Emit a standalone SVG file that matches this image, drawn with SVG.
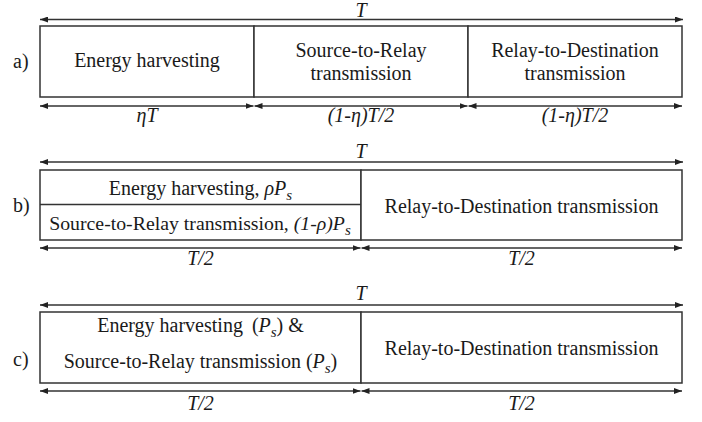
<svg xmlns="http://www.w3.org/2000/svg" width="702" height="422" viewBox="0 0 702 422">
<defs>
<marker id="ah" viewBox="0 0 8 6" refX="8" refY="3" markerWidth="8" markerHeight="6" markerUnits="userSpaceOnUse" orient="auto-start-reverse">
<path d="M0,0 L8,3 L0,6 z" fill="#222"/>
</marker>
</defs>
<style>
.bx{fill:#fff;stroke:#333;stroke-width:1.5}
.dv{stroke:#333;stroke-width:1.5;fill:none}
.ar{stroke:#333;stroke-width:1.3;fill:none;marker-start:url(#ah);marker-end:url(#ah)}
</style>
<rect width="702" height="422" fill="#fff"/>
<g font-family="Liberation Serif, Times New Roman, serif" font-size="20" fill="#1a1a1a">
<g id="panel-a">
<text x="13" y="68">a)</text>
<g id="a-eh"><rect class="bx" x="40" y="26" width="214" height="71"/><text text-anchor="middle" x="147" y="67">Energy harvesting</text></g>
<g id="a-sr"><rect class="bx" x="254" y="26" width="214" height="71"/><text text-anchor="middle" x="361" y="57">Source-to-Relay</text><text text-anchor="middle" x="361" y="80">transmission</text></g>
<g id="a-rd"><rect class="bx" x="468" y="26" width="214" height="71"/><text text-anchor="middle" x="575" y="57">Relay-to-Destination</text><text text-anchor="middle" x="575" y="80">transmission</text></g>
<text text-anchor="middle" font-style="italic" x="361" y="17">T</text>
<text text-anchor="middle" font-style="italic" x="147" y="122">ηT</text>
<text text-anchor="middle" font-style="italic" x="361" y="122">(1-η)T/2</text>
<text text-anchor="middle" font-style="italic" x="575" y="122">(1-η)T/2</text>
</g>

<g id="panel-b">
<text x="13" y="212">b)</text>
<g id="b-left"><rect class="bx" x="40" y="170" width="321" height="70"/><line class="dv" x1="40" y1="204.5" x2="361" y2="204.5"/>
<text text-anchor="middle" x="200.5" y="195">Energy harvesting, <tspan font-style="italic">ρP</tspan><tspan font-style="italic" font-size="15" dy="5">s</tspan></text>
<text text-anchor="middle" x="200" y="230" font-size="19.8">Source-to-Relay transmission, <tspan font-style="italic">(1-ρ)P</tspan><tspan font-style="italic" font-size="15" dy="5">s</tspan></text></g>
<g id="b-rd"><rect class="bx" x="361" y="170" width="321" height="70"/><text text-anchor="middle" x="521.5" y="213">Relay-to-Destination transmission</text></g>
<text text-anchor="middle" font-style="italic" x="361" y="158">T</text>
<text text-anchor="middle" font-style="italic" x="200.5" y="265">T/2</text>
<text text-anchor="middle" font-style="italic" x="521.5" y="265">T/2</text>
</g>

<g id="panel-c">
<text x="13" y="366">c)</text>
<g id="c-left"><rect class="bx" x="40" y="312" width="321" height="71"/>
<text text-anchor="middle" x="200.5" y="332">Energy harvesting <tspan dx="4">(</tspan><tspan font-style="italic">P</tspan><tspan font-style="italic" font-size="15" dy="5">s</tspan><tspan dy="-5">) &amp;</tspan></text>
<text text-anchor="middle" x="200.5" y="368">Source-to-Relay transmission (<tspan font-style="italic">P</tspan><tspan font-style="italic" font-size="15" dy="5">s</tspan><tspan dy="-5">)</tspan></text></g>
<g id="c-rd"><rect class="bx" x="361" y="312" width="321" height="71"/><text text-anchor="middle" x="521.5" y="355">Relay-to-Destination transmission</text></g>
<text text-anchor="middle" font-style="italic" x="361" y="300">T</text>
<text text-anchor="middle" font-style="italic" x="200.5" y="410">T/2</text>
<text text-anchor="middle" font-style="italic" x="521.5" y="410">T/2</text>
</g>
</g>
<g id="connectors">
<line class="ar" x1="40" y1="19.5" x2="683" y2="19.5"/>
<line class="ar" x1="40" y1="106" x2="253.5" y2="106"/>
<line class="ar" x1="254.5" y1="106" x2="467.5" y2="106"/>
<line class="ar" x1="468.5" y1="106" x2="682" y2="106"/>
<line class="ar" x1="40" y1="162" x2="683" y2="162"/>
<line class="ar" x1="40" y1="248" x2="360.5" y2="248"/>
<line class="ar" x1="361.5" y1="248" x2="682" y2="248"/>
<line class="ar" x1="40" y1="305" x2="683" y2="305"/>
<line class="ar" x1="40" y1="391" x2="360.5" y2="391"/>
<line class="ar" x1="361.5" y1="391" x2="682" y2="391"/>
</g>
</svg>
